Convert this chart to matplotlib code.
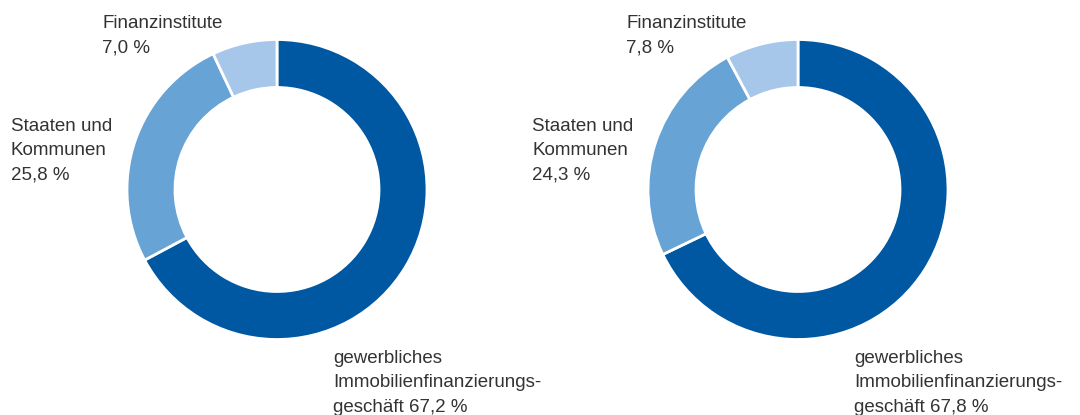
import matplotlib.pyplot as plt

# Shares of the portfolio (left and right donut), clockwise from the top
labels_left = ["gewerbliches\nImmobilienfinanzierungs-\ngeschäft 67,2 %",
               "Staaten und\nKommunen\n25,8 %",
               "Finanzinstitute\n7,0 %"]
labels_right = ["gewerbliches\nImmobilienfinanzierungs-\ngeschäft 67,8 %",
                "Staaten und\nKommunen\n24,3 %",
                "Finanzinstitute\n7,8 %"]
values_left = [67.2, 25.8, 7.0]
values_right = [67.8, 24.3, 7.8]
colors = ["#0058a2", "#68a3d5", "#a6c6ea"]

plt.rcParams['font.family'] = ['Liberation Sans', 'DejaVu Sans']

W, H = 1080, 415
fig = plt.figure(figsize=(W / 100, H / 100), dpi=100)

R = 150  # outer radius in px


def donut(cx, cy, values, labels, label_px):
    ax = fig.add_axes([(cx - R) / W, (H - cy - R) / H, 2 * R / W, 2 * R / H])
    ax.pie(values, colors=colors, startangle=90, counterclock=False,
           radius=1, wedgeprops=dict(width=0.32, edgecolor='white', linewidth=2))
    ax.set_xlim(-1, 1)
    ax.set_ylim(-1, 1)
    ax.set_aspect('equal')
    ax.axis('off')
    for lab, (px, py) in zip(labels, label_px):
        fig.text(px / W, 1 - py / H, lab, ha='left', va='top',
                 fontsize=13.5, color='#333333', linespacing=1.57)


donut(277, 189.5, values_left, labels_left,
      [(333, 350), (11, 118), (102, 15)])
donut(798, 189.5, values_right, labels_right,
      [(854, 350), (532, 118), (626, 15)])

fig.savefig("out.png", dpi=100)
